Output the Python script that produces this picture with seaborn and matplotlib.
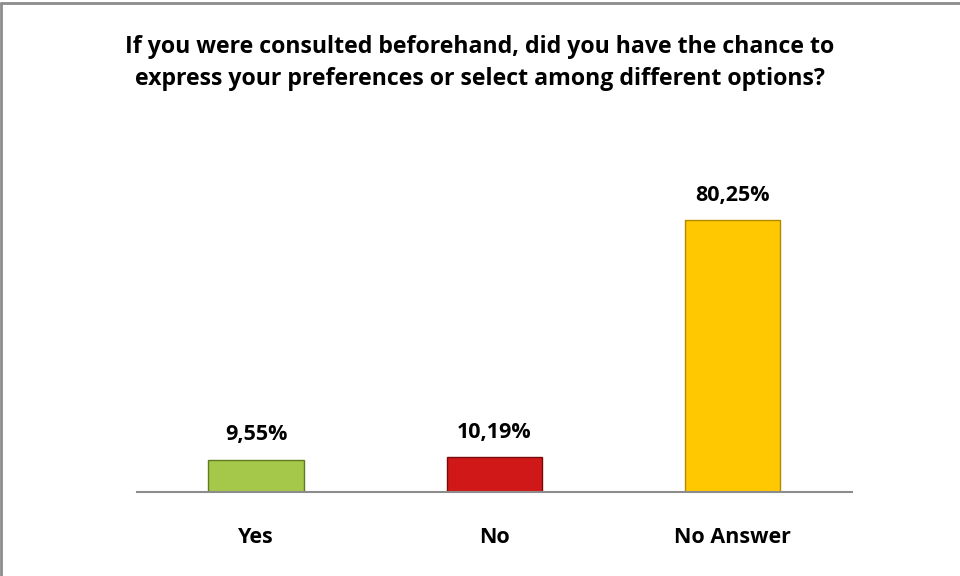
import matplotlib
matplotlib.use('Agg')
import matplotlib.pyplot as plt
import seaborn as sns
import pandas as pd

# dados do gráfico
categorias = ['Yes', 'No', 'No Answer']
valores = [9.55, 10.19, 80.25]
rotulos = ['9,55%', '10,19%', '80,25%']
cores = ['#a5c84a', '#d01818', '#ffc800']
bordas = ['#5f7a20', '#7a0a0a', '#b08a00']

titulo = ('If you were consulted beforehand, did you have the chance to\n'
          'express your preferences or select among different options?')

sns.set_theme(style='white')
plt.rcParams['font.family'] = ['Open Sans', 'DejaVu Sans']

df = pd.DataFrame({'categoria': categorias, 'valor': valores})

fig = plt.figure(figsize=(9.6, 5.76), dpi=100)
ax = fig.add_axes([0.1427, 0.1458, 0.7448, 0.53])

sns.barplot(data=df, x='categoria', y='valor', hue='categoria', palette=cores,
            width=0.40, legend=False, ax=ax, saturation=1)

for barra, borda in zip(ax.patches, bordas):
    barra.set_edgecolor(borda)
    barra.set_linewidth(1.0)

for i, (v, r) in enumerate(zip(valores, rotulos)):
    ax.annotate(r, (i, v), xytext=(0, 18), textcoords='offset points',
                ha='center', va='center', fontsize=15.5,
                fontweight='bold', color='black')

ax.set_xlim(-0.5, 2.5)
ax.set_ylim(0, 80.25 * 0.53 * 576 / 272)
ax.set_yticks([])
ax.set_xlabel('')
ax.set_ylabel('')
for lado in ['top', 'right', 'left']:
    ax.spines[lado].set_visible(False)
ax.spines['bottom'].set_color('#8c8c8c')
ax.spines['bottom'].set_linewidth(1.5)
ax.tick_params(axis='x', length=0, pad=25)
for t in ax.get_xticklabels():
    t.set_fontweight('bold')
    t.set_fontsize(15.5)
    t.set_color('black')

fig.text(0.5, 0.89, titulo, ha='center', va='center', fontsize=16.7,
         fontweight='bold', linespacing=1.45, color='black')

# moldura (só esquerda e topo visíveis)
fig.add_artist(plt.Line2D([0.0015, 0.0015], [0, 0.994], color='#8c8c8c',
                          lw=2, transform=fig.transFigure))
fig.add_artist(plt.Line2D([0.0015, 1], [0.994, 0.994], color='#8c8c8c',
                          lw=2, transform=fig.transFigure))

fig.savefig('out.png', dpi=100)
